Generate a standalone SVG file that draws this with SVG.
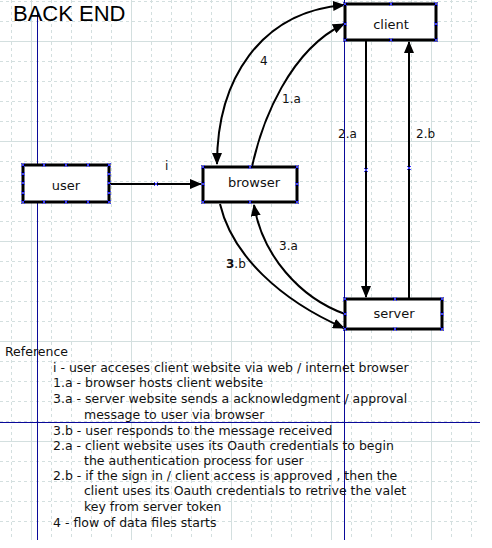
<svg xmlns="http://www.w3.org/2000/svg" width="492" height="548" viewBox="0 0 492 548">
<defs>
<style>
.node rect{fill:#fff;stroke:#000;stroke-width:3}
.node text{font-family:"DejaVu Sans",sans-serif;font-size:13px;fill:#111;text-anchor:middle}
.con path{fill:none;stroke:#000;stroke-width:2}
.lbl{font-family:"DejaVu Sans",sans-serif;font-size:12px;fill:#111}
.ref{font-family:"DejaVu Sans",sans-serif;font-size:12.5px;fill:#111}
.blue{stroke:#0a0a9a;stroke-width:1;fill:none}
.cp{stroke:#3a3aff;stroke-width:1;fill:none}
.gmin{stroke:#d3dfdf;stroke-width:1;stroke-dasharray:3,3;fill:none}
.gmaj{stroke:#d3dfdf;stroke-width:1;fill:none}
</style>
<marker id="arr" markerUnits="userSpaceOnUse" viewBox="0 0 12 10" markerWidth="12" markerHeight="10" refX="11" refY="5" orient="auto-start-reverse">
<path d="M0,0L12,5L0,10z" fill="#000"/>
</marker>
<path id="x" d="M-2,-2L2,2M-2,2L2,-2" class="cp"/>
</defs>
<rect width="492" height="548" fill="#fff"/>
<g id="grid">
<path class="gmin" d="M11.5,0V540M51.5,0V540M71.5,0V540M91.5,0V540M111.5,0V540M151.5,0V540M171.5,0V540M191.5,0V540M211.5,0V540M251.5,0V540M271.5,0V540M291.5,0V540M311.5,0V540M351.5,0V540M371.5,0V540M391.5,0V540M411.5,0V540M451.5,0V540M471.5,0V540M0,1.5H480M0,21.5H480M0,61.5H480M0,81.5H480M0,101.5H480M0,121.5H480M0,161.5H480M0,181.5H480M0,201.5H480M0,221.5H480M0,261.5H480M0,281.5H480M0,301.5H480M0,321.5H480M0,361.5H480M0,381.5H480M0,401.5H480M0,421.5H480M0,461.5H480M0,481.5H480M0,501.5H480M0,521.5H480"/>
<path class="gmaj" d="M31.5,0V540M131.5,0V540M231.5,0V540M331.5,0V540M431.5,0V540M0,41.5H480M0,141.5H480M0,241.5H480M0,341.5H480M0,441.5H480"/>
<path class="blue" d="M37.5,10V540M344.5,0V540M0,422.5H480"/>
</g>
<text x="13" y="21" font-family="Liberation Sans,Arial,sans-serif" font-size="22" fill="#000">BACK END</text>

<g id="connectors" class="con">
<path d="M109,184H201" marker-end="url(#arr)"/>
<path d="M217,164C217,80 260,12 344,5" marker-start="url(#arr)" marker-end="url(#arr)"/>
<path d="M252,167C262,120 290,50 344,24" marker-end="url(#arr)"/>
<path d="M366,41V297" marker-end="url(#arr)"/>
<path d="M409,298V42" marker-end="url(#arr)"/>
<path d="M345,314C300,298 262,255 254,205" marker-end="url(#arr)"/>
<path d="M220,204C232,255 280,300 344,328" marker-end="url(#arr)"/>
<text class="lbl" x="165" y="170">i</text>
<text class="lbl" x="260" y="65">4</text>
<text class="lbl" x="282" y="103">1.a</text>
<text class="lbl" x="338" y="138">2.a</text>
<text class="lbl" x="416" y="138">2.b</text>
<text class="lbl" x="279" y="250">3.a</text>
<text class="lbl" x="226" y="268"><tspan font-weight="bold">3</tspan>.b</text>
<use href="#x" x="156" y="184"/>
<use href="#x" x="366" y="170"/>
<use href="#x" x="409" y="168"/>
</g>

<g id="client" class="node">
<rect x="345" y="4" width="91" height="36"/>
<text x="391" y="29">client</text>
<use href="#x" x="345" y="4"/><use href="#x" x="391" y="4"/><use href="#x" x="436" y="4"/>
<use href="#x" x="345" y="24"/><use href="#x" x="436" y="24"/>
<use href="#x" x="345" y="40"/><use href="#x" x="391" y="40"/><use href="#x" x="436" y="40"/>
</g>

<g id="user" class="node">
<rect x="23" y="165" width="86" height="37"/>
<text x="66" y="190">user</text>
<use href="#x" x="23" y="165"/><use href="#x" x="44" y="165"/><use href="#x" x="66" y="165"/><use href="#x" x="88" y="165"/><use href="#x" x="109" y="165"/>
<use href="#x" x="23" y="202"/><use href="#x" x="44" y="202"/><use href="#x" x="66" y="202"/><use href="#x" x="88" y="202"/><use href="#x" x="109" y="202"/>
<use href="#x" x="23" y="174"/><use href="#x" x="23" y="183"/><use href="#x" x="23" y="193"/>
<use href="#x" x="109" y="174"/><use href="#x" x="109" y="183"/><use href="#x" x="109" y="193"/>
</g>

<g id="browser" class="node">
<rect x="203" y="167" width="94" height="35"/>
<text x="254" y="187">browser</text>
<use href="#x" x="203" y="167"/><use href="#x" x="250" y="167"/><use href="#x" x="297" y="167"/>
<use href="#x" x="203" y="184"/><use href="#x" x="297" y="184"/>
<use href="#x" x="203" y="202"/><use href="#x" x="250" y="202"/><use href="#x" x="297" y="202"/>
</g>

<g id="server" class="node">
<rect x="345" y="299" width="97" height="30"/>
<text x="394" y="318">server</text>
<use href="#x" x="345" y="299"/><use href="#x" x="395" y="299"/><use href="#x" x="442" y="299"/>
<use href="#x" x="345" y="314"/><use href="#x" x="442" y="314"/>
<use href="#x" x="345" y="329"/><use href="#x" x="395" y="329"/><use href="#x" x="442" y="329"/>
</g>

<g id="reference" class="ref">
<text x="5" y="356">Reference</text>
<text x="53" y="372">i - user acceses client website via web / internet browser</text>
<text x="53" y="387">1.a - browser hosts client website</text>
<text x="53" y="403">3.a - server website sends a acknowledgment / approval</text>
<text x="84" y="419">message to user via browser</text>
<text x="53" y="435">3.b - user responds to the message received</text>
<text x="53" y="450">2.a - client website uses its Oauth credentials to begin</text>
<text x="84" y="465">the authentication process for user</text>
<text x="53" y="480">2.b - if the sign in / client access is approved , then the</text>
<text x="84" y="495">client uses its Oauth credentials to retrive the valet</text>
<text x="84" y="511">key from server token</text>
<text x="53" y="527">4 - flow of data files starts</text>
</g>
</svg>
